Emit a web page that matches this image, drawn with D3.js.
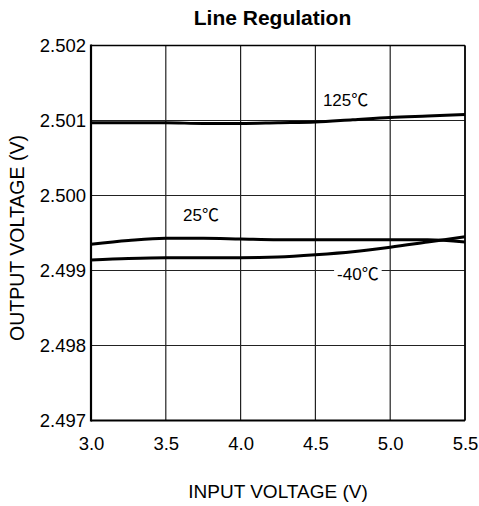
<!DOCTYPE html>
<html><head><meta charset="utf-8">
<script src="https://cdn.jsdelivr.net/npm/d3@7"></script>
<style>
body{margin:0;background:#fff;}
text{font-family:"Liberation Sans",Arial,"Noto Sans CJK SC",sans-serif;fill:#000;}
</style></head>
<body><svg id="c" width="479" height="506"></svg>
<script>
const inputV = [3.0, 3.25, 3.5, 3.75, 4.0, 4.25, 4.5, 4.75, 5.0, 5.25, 5.5];
const v125 = [2.50097, 2.50097, 2.50097, 2.50096, 2.50096, 2.50097, 2.50098, 2.50101, 2.50104, 2.50106, 2.50108];
const v25 = [2.49935, 2.49940, 2.49943, 2.49943, 2.49942, 2.49941, 2.49941, 2.49941, 2.49941, 2.49941, 2.49938];
const vm40 = [2.49914, 2.49916, 2.49917, 2.49917, 2.49917, 2.49918, 2.49921, 2.49925, 2.49931, 2.49938, 2.49945];
const xTicks = [3.0, 3.5, 4.0, 4.5, 5.0, 5.5];
const yTicks = [2.497, 2.498, 2.499, 2.500, 2.501, 2.502];
const seriesNames = ["125℃", "25℃", "-40℃"];
const labelPos = [[4.55, 2.50119], [3.615, 2.49966], [4.645, 2.49887]];

const svg = d3.select("#c");
const L = 91, R = 465, T = 45.5, B = 420.5;
const x = d3.scaleLinear().domain([3.0, 5.5]).range([L, R]);
const y = d3.scaleLinear().domain([2.497, 2.502]).range([B, T]);

// grid
svg.append("g").selectAll("line").data(xTicks).join("line")
  .attr("x1", d => x(d)).attr("x2", d => x(d)).attr("y1", T).attr("y2", B)
  .attr("stroke", "#222").attr("stroke-width", 1.2);
svg.append("g").selectAll("line").data(yTicks).join("line")
  .attr("y1", d => y(d)).attr("y2", d => y(d)).attr("x1", L).attr("x2", R)
  .attr("stroke", "#222").attr("stroke-width", 1.2);

// axes
const xa = svg.append("g").attr("transform", `translate(0,${B})`)
  .call(d3.axisBottom(x).tickValues(xTicks).tickFormat(d3.format(".1f")).tickSize(0).tickPadding(16));
const ya = svg.append("g").attr("transform", `translate(${L},0)`)
  .call(d3.axisLeft(y).tickValues(yTicks).tickFormat(d3.format(".3f")).tickSize(0).tickPadding(5));
[xa, ya].forEach(a => { a.select(".domain").remove(); a.selectAll("text").attr("font-size", 18.5).attr("font-family", null); });

// frame
svg.append("line").attr("x1", L).attr("x2", L).attr("y1", T - 1).attr("y2", B + 1).attr("stroke", "#000").attr("stroke-width", 2.2);
svg.append("line").attr("x1", L).attr("x2", R).attr("y1", B).attr("y2", B).attr("stroke", "#000").attr("stroke-width", 2);
svg.append("line").attr("x1", R).attr("x2", R).attr("y1", T).attr("y2", B).attr("stroke", "#000").attr("stroke-width", 1.6);
svg.append("line").attr("x1", L).attr("x2", R).attr("y1", T).attr("y2", T).attr("stroke", "#000").attr("stroke-width", 1.6);

// curves
const line = d3.line().x((d, i) => x(inputV[i])).y(d => y(d)).curve(d3.curveMonotoneX);
[v125, v25, vm40].forEach(s => {
  svg.append("path").attr("d", line(s)).attr("fill", "none").attr("stroke", "#000").attr("stroke-width", 3);
});

// labels
seriesNames.forEach((n, i) => {
  const g = svg.append("g");
  const t = g.append("text").attr("x", x(labelPos[i][0])).attr("y", y(labelPos[i][1]))
    .attr("font-size", 17).text(n);
  if (i === 2) {
    const bb = t.node().getBBox();
    g.insert("rect", "text").attr("x", bb.x - 3).attr("y", bb.y).attr("width", bb.width + 6).attr("height", bb.height).attr("fill", "#fff");
  }
});

// titles
svg.append("text").attr("x", 272.5).attr("y", 25).attr("text-anchor", "middle")
  .attr("font-size", 21).attr("font-weight", "bold").text("Line Regulation");
svg.append("text").attr("x", 278).attr("y", 498).attr("text-anchor", "middle")
  .attr("font-size", 19).text("INPUT VOLTAGE (V)");
svg.append("text").attr("transform", "translate(24,238) rotate(-90)").attr("text-anchor", "middle")
  .attr("font-size", 19.5).text("OUTPUT VOLTAGE (V)");
</script></body></html>
